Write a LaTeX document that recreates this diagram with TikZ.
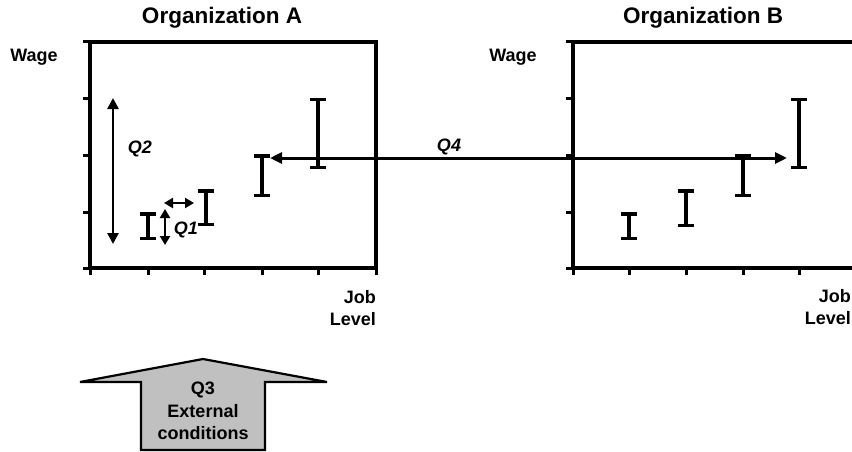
\documentclass[tikz,border=0pt]{standalone}
\usepackage{fontspec}
\setmainfont{Liberation Sans}
\usetikzlibrary{arrows.meta}
\definecolor{boxgray}{RGB}{192,192,192}
\begin{document}
\begin{tikzpicture}[x=1pt,y=-1pt,
  axis/.style={line width=3.5pt},
  tickmark/.style={line width=3pt},
  errbar/.style={line width=4pt,{Bar[width=16pt,line width=3.5pt]}-{Bar[width=16pt,line width=3.5pt]}},
  dbl/.style={line width=2.6pt,{Triangle[length=11pt,width=11pt]}-{Triangle[length=11pt,width=11pt]}},
  wdbl/.style={line width=3pt,{Triangle[length=12pt,width=11pt]}-{Triangle[length=12pt,width=11pt]}},
  sdbl/.style={line width=2.8pt,{Triangle[length=9pt,width=10pt]}-{Triangle[length=9pt,width=10pt]}},
  lbl/.style={font=\fontsize{18}{22.5}\selectfont\bfseries, inner sep=0pt},
  qlbl/.style={font=\fontsize{18}{22}\selectfont\bfseries\itshape, inner sep=0pt},
  ttl/.style={font=\fontsize{22.5}{26}\selectfont\bfseries, inner sep=0pt}]
\useasboundingbox (0,0) rectangle (852,452);

% ---------- Organization A ----------
\node[ttl] (ttlA) at (222,18) {Organization A};
\node[lbl] (wageA) at (34,57) {Wage};
\node[lbl, align=right, anchor=east] (jobA) at (376,308) {Job\\Level};
\coordinate (A00) at (90,268);
\coordinate (A11) at (376,42);
\draw[axis] (A00) rectangle (A11);
\foreach \y in {42,99,155,212,268} \draw[tickmark] (83,\y) -- (90,\y);
\foreach \x in {90,148,204,262,318,376} \draw[tickmark] (\x,268) -- (\x,275);

% error bars A
\coordinate (a1t) at (148,212); \coordinate (a1b) at (148,240);
\coordinate (a2t) at (206,189); \coordinate (a2b) at (206,226);
\coordinate (a3t) at (262,154); \coordinate (a3b) at (262,197);
\coordinate (a4t) at (318,98);  \coordinate (a4b) at (318,169);
\draw[errbar] (a1t) -- (a1b);
\draw[errbar] (a2t) -- (a2b);
\draw[errbar] (a3t) -- (a3b);
\draw[errbar] (a4t) -- (a4b);

% Q2
\coordinate (q2t) at (113,98); \coordinate (q2b) at (113,244);
\draw[dbl] (q2t) -- (q2b);
\node[qlbl] (q2) at (140,149) {Q2};

% Q1
\coordinate (q1vt) at (165,209); \coordinate (q1vb) at (165,245);
\draw[sdbl] (q1vt) -- (q1vb);
\coordinate (q1hl) at (164,203); \coordinate (q1hr) at (194,203);
\draw[sdbl] (q1hl) -- (q1hr);
\node[qlbl] (q1) at (186,230) {Q1};

% ---------- Organization B ----------
\node[ttl] (ttlB) at (703,18) {Organization B};
\node[lbl] (wageB) at (513,57) {Wage};
\node[lbl, align=right, anchor=east] (jobB) at (851,307) {Job\\Level};
\coordinate (B0) at (573,268);
\coordinate (B1) at (573,42);
\draw[axis] (852,42) -- (B1) -- (B0) -- (852,268);
\foreach \y in {42,99,155,212,268} \draw[tickmark] (566,\y) -- (573,\y);
\foreach \x in {573,629,686,743,799} \draw[tickmark] (\x,268) -- (\x,275);

% error bars B
\coordinate (b1t) at (629,212); \coordinate (b1b) at (629,240);
\coordinate (b2t) at (686,189); \coordinate (b2b) at (686,227);
\coordinate (b3t) at (743,154); \coordinate (b3b) at (743,197);
\coordinate (b4t) at (799,98);  \coordinate (b4b) at (799,169);
\draw[errbar] (b1t) -- (b1b);
\draw[errbar] (b2t) -- (b2b);
\draw[errbar] (b3t) -- (b3b);
\draw[errbar] (b4t) -- (b4b);

% Q4
\coordinate (q4l) at (270,158); \coordinate (q4r) at (787,158);
\draw[wdbl] (q4l) -- (q4r);
\node[qlbl] (q4) at (449,147) {Q4};

% ---------- Q3 arrow ----------
\draw[line width=2.2pt, fill=boxgray, line join=miter]
  (80,382) -- (203,359) -- (327,382) -- (265,382) -- (265,450)
  -- (141,450) -- (141,382) -- cycle;
\node[lbl, align=center] (q3) at (203,411) {Q3\\External\\conditions};
\end{tikzpicture}
\end{document}
